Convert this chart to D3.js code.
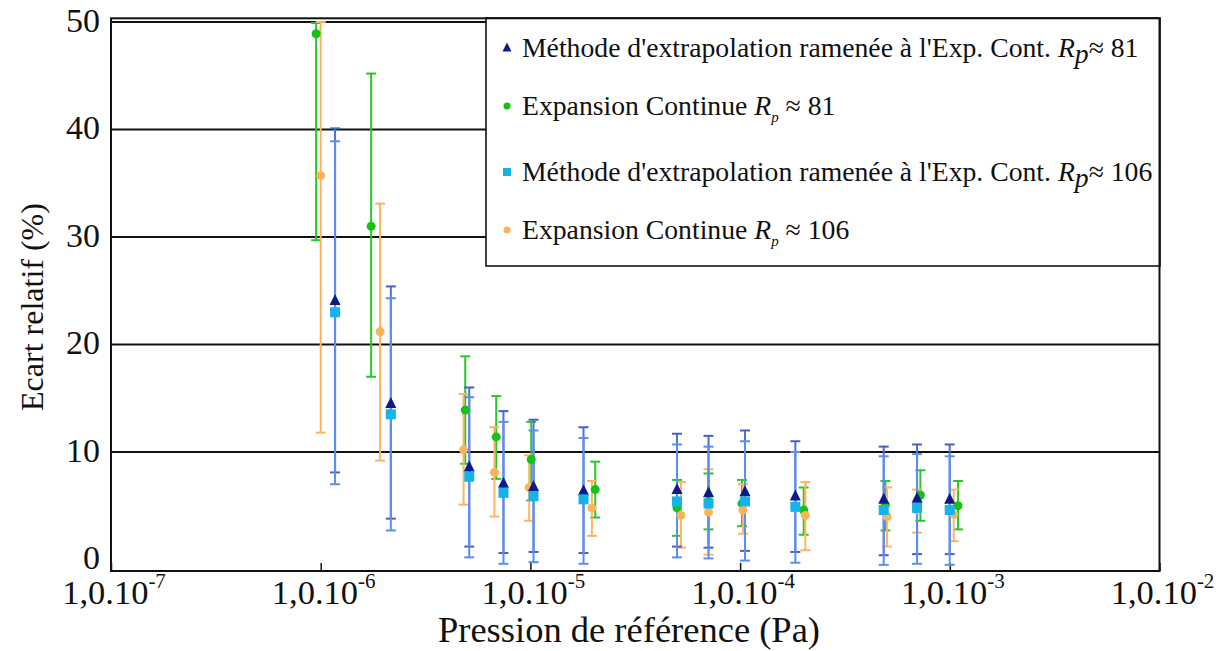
<!DOCTYPE html>
<html>
<head>
<meta charset="utf-8">
<script src="https://cdn.jsdelivr.net/npm/d3@7"></script>
<style>
  html, body { margin: 0; padding: 0; background: #fff; }
  svg text { font-family: "Liberation Serif", Tinos, "Times New Roman", Times, "DejaVu Serif", serif; }
</style>
</head>
<body>
<svg id="chart" width="1228" height="651"></svg>
<script>
// ---------- DATA ----------
const xTickExponents = [-7, -6, -5, -4, -3, -2];
const yTickValues = [0, 10, 20, 30, 40, 50];

// Méthode d'extrapolation ramenée à l'Exp. Cont. Rp ≈ 81 (triangles)
const methode81Pressure = [1.171e-6, 2.160e-6, 5.11e-6, 7.44e-6, 1.035e-5, 1.792e-5, 5.00e-5, 7.07e-5, 1.055e-4, 1.834e-4, 4.84e-4, 6.98e-4, 9.99e-4];
const methode81Value    = [24.1, 14.5, 8.6, 7.1, 6.8, 6.4, 6.5, 6.2, 6.3, 5.9, 5.6, 5.7, 5.6];
const methode81Low      = [8.1, 3.8, 1.2, 0.6, 0.7, 0.6, 1.2, 1.1, 0.8, 0.7, 0.4, 0.5, 0.5];
const methode81High     = [40.1, 25.4, 16.0, 13.8, 13.0, 12.3, 11.7, 11.5, 12.0, 11.0, 10.5, 10.7, 10.7];

// Méthode d'extrapolation ramenée à l'Exp. Cont. Rp ≈ 106 (squares)
const methode106Pressure = [1.171e-6, 2.160e-6, 5.11e-6, 7.44e-6, 1.035e-5, 1.792e-5, 5.00e-5, 7.07e-5, 1.055e-4, 1.834e-4, 4.84e-4, 6.98e-4, 9.99e-4];
const methode106Value    = [23.0, 13.5, 7.7, 6.2, 5.9, 5.6, 5.4, 5.2, 5.4, 4.9, 4.6, 4.8, 4.6];
const methode106Low      = [7.0, 2.7, 0.2, -0.4, -0.25, -0.4, 0.2, 0.1, -0.1, -0.3, -0.5, -0.4, -0.5];
const methode106High     = [38.9, 24.3, 15.1, 12.8, 12.0, 11.3, 10.7, 10.5, 11.0, 10.0, 9.6, 9.8, 9.6];

// Expansion Continue Rp ≈ 81 (green circles)
const expansion81Pressure = [9.51e-7, 1.740e-6, 4.89e-6, 6.87e-6, 1.009e-5, 2.038e-5, 5.00e-5, 7.07e-5, 1.021e-4, 2.01e-4, 4.93e-4, 7.24e-4, 1.095e-3];
const expansion81Value    = [48.9, 31.0, 13.9, 11.4, 9.3, 6.5, 4.8, 5.4, 5.2, 4.6, 5.1, 6.0, 5.0];
const expansion81Low      = [29.7, 17.0, 8.9, 7.5, 5.5, 3.9, 2.2, 2.8, 3.1, 2.3, 2.7, 3.6, 2.8];
const expansion81High     = [49.9, 45.2, 18.9, 15.2, 12.8, 9.1, 7.4, 8.0, 7.4, 6.7, 7.3, 8.3, 7.3];

// Expansion Continue Rp ≈ 106 (orange circles)
const expansion106Pressure = [1.00e-6, 1.920e-6, 4.80e-6, 6.74e-6, 9.87e-6, 1.965e-5, 5.22e-5, 7.07e-5, 1.032e-4, 2.047e-4, 5.02e-4, 6.98e-4, 1.044e-3];
const expansion106Value    = [35.7, 21.2, 10.2, 8.1, 6.7, 4.8, 4.1, 4.4, 4.6, 4.1, 4.0, 4.6, 4.2];
const expansion106Low      = [11.8, 9.2, 5.1, 4.0, 3.6, 2.2, 1.1, 0.45, 2.4, 0.86, 1.2, 2.5, 1.7];
const expansion106High     = [50.0, 33.1, 15.4, 12.3, 9.7, 7.3, 7.2, 8.4, 7.0, 7.2, 6.7, 6.5, 6.5];

const legendLabels = [
  { pre: "Méthode d'extrapolation ramenée à l'Exp. Cont. ", sub: "p", small: false, post: "≈ 81" },
  { pre: "Expansion Continue ", sub: "p", small: true, post: " ≈ 81" },
  { pre: "Méthode d'extrapolation ramenée à l'Exp. Cont. ", sub: "p", small: false, post: "≈ 106" },
  { pre: "Expansion Continue ", sub: "p", small: true, post: " ≈ 106" }
];

// ---------- BUILD ----------
(function () {
const FONT = "'Liberation Serif', Tinos, 'Times New Roman', Times, serif";
function zip(p, v, lo, hi) { return p.map((d, i) => ({ p: d, v: v[i], lo: lo[i], hi: hi[i] })); }

const series = [
  { key: "exp81",  data: zip(expansion81Pressure, expansion81Value, expansion81Low, expansion81High), shape: "circle", fill: "#16c216", bar: "#27c927", cap: "#27c927" },
  { key: "exp106", data: zip(expansion106Pressure, expansion106Value, expansion106Low, expansion106High), shape: "circle", fill: "#fdb457", bar: "#fdb55c", cap: "#fdb55c" },
  { key: "met81",  data: zip(methode81Pressure, methode81Value, methode81Low, methode81High), shape: "triangle", fill: "#0b1a8c", bar: "#4f6fd8", cap: "#4b5fc2" },
  { key: "met106", data: zip(methode106Pressure, methode106Value, methode106Low, methode106High), shape: "square", fill: "#14b4ea", bar: "#5b8ef0", cap: "#5b8ef0" }
];

const svg = d3.select("#chart");
const plotL = 111, plotR = 1159.5, plotT = 18.3, plotB = 571;

const x = d3.scaleLog().domain([1e-7, 1e-2]).range([plotL, plotR]);
const y = d3.scaleLinear().domain([-1.07, 50.34]).range([plotB, plotT]);

// gridlines
svg.append("g").selectAll("line").data(yTickValues.filter(d => d > 0)).join("line")
  .attr("x1", plotL).attr("x2", plotR)
  .attr("y1", d => y(d)).attr("y2", d => y(d))
  .attr("stroke", "#111").attr("stroke-width", 2);

// legend box (covers gridlines)
const legendBox = { x0: 486, y0: 18, x1: 1160, y1: 266 };
svg.append("rect")
  .attr("x", legendBox.x0).attr("y", legendBox.y0)
  .attr("width", legendBox.x1 - legendBox.x0).attr("height", legendBox.y1 - legendBox.y0)
  .attr("fill", "#fff").attr("stroke", "#111").attr("stroke-width", 1.6);

// frame
svg.append("rect")
  .attr("x", plotL).attr("y", plotT).attr("width", plotR - plotL).attr("height", plotB - plotT)
  .attr("fill", "none").attr("stroke", "#111").attr("stroke-width", 2);

// x axis ticks (inward)
const xAxis = d3.axisBottom(x)
  .tickValues(xTickExponents.map(e => Math.pow(10, e)))
  .tickSizeInner(-8).tickSizeOuter(0).tickFormat("");
const gx = svg.append("g").attr("transform", `translate(0,${plotB})`).call(xAxis);
gx.select(".domain").remove();
gx.selectAll(".tick line").attr("stroke", "#111").attr("stroke-width", 1.5);

// x tick labels
const xl = svg.append("g").selectAll("text").data(xTickExponents).join("text")
  .attr("x", d => x(Math.pow(10, d)) + 3)
  .attr("y", 604)
  .attr("text-anchor", "middle")
  .attr("font-family", FONT)
  .attr("font-size", 34.5)
  .attr("fill", "#111");
xl.append("tspan").text("1,0.10");
xl.append("tspan").attr("font-size", 21).attr("dy", -16).text(d => String(d));

// y tick labels
const yAxis = d3.axisLeft(y).tickValues(yTickValues).tickSize(0).tickPadding(11).tickFormat(d3.format("d"));
const gy = svg.append("g").attr("transform", `translate(${plotL},0)`).call(yAxis);
gy.attr("font-family", FONT);
gy.select(".domain").remove();
gy.selectAll(".tick text")
  .attr("font-family", FONT)
  .attr("font-size", 34).attr("fill", "#111").attr("dy", "0.27em");

// axis titles
svg.append("text")
  .attr("x", 629).attr("y", 642).attr("text-anchor", "middle")
  .attr("font-family", FONT)
  .attr("font-size", 36.5).attr("fill", "#111")
  .text("Pression de référence (Pa)");
svg.append("text")
  .attr("transform", "translate(43,307) rotate(-90)")
  .attr("text-anchor", "middle").attr("font-size", 32).attr("fill", "#111")
  .attr("font-family", FONT)
  .text("Ecart relatif (%)");

// error bars
const capHalf = 5;
series.forEach(s => {
  const g = svg.append("g").attr("class", "err-" + s.key);
  g.selectAll("line.v").data(s.data).join("line").attr("class", "v")
    .attr("x1", d => x(d.p)).attr("x2", d => x(d.p))
    .attr("y1", d => y(d.lo)).attr("y2", d => y(d.hi))
    .attr("stroke", s.bar).attr("stroke-width", 2);
  ["lo", "hi"].forEach(k => {
    g.selectAll("line.c" + k).data(s.data).join("line").attr("class", "c" + k)
      .attr("x1", d => x(d.p) - capHalf).attr("x2", d => x(d.p) + capHalf)
      .attr("y1", d => y(d[k])).attr("y2", d => y(d[k]))
      .attr("stroke", s.cap).attr("stroke-width", 2);
  });
});

// markers
function drawMarker(g, shape, cx, cy, size, fill) {
  if (shape === "circle") {
    g.append("circle").attr("cx", cx).attr("cy", cy).attr("r", size / 2).attr("fill", fill);
  } else if (shape === "triangle") {
    const h = size, w = size;
    g.append("path").attr("d", `M${cx},${cy - h / 2 - 1}L${cx + w / 2},${cy + h / 2 - 1}L${cx - w / 2},${cy + h / 2 - 1}Z`).attr("fill", fill);
  } else {
    g.append("rect").attr("x", cx - size / 2).attr("y", cy - size / 2).attr("width", size).attr("height", size).attr("fill", fill);
  }
}
const markerSize = { circle: 9, triangle: 11, square: 10 };
series.forEach(s => {
  const g = svg.append("g").attr("class", "pts-" + s.key);
  s.data.forEach(d => drawMarker(g, s.shape, x(d.p), y(d.v), markerSize[s.shape], s.fill));
});

// legend entries
const legendOrder = ["met81", "exp81", "met106", "exp106"];
const legendY = [47, 105, 171, 229];
const legendMarkerSize = { circle: 7, triangle: 9, square: 8 };
legendOrder.forEach((k, i) => {
  const s = series.find(d => d.key === k);
  const lab = legendLabels[i];
  const g = svg.append("g").attr("class", "legend-item");
  drawMarker(g, s.shape, 507, legendY[i] + 1, legendMarkerSize[s.shape], s.fill);
  const t = g.append("text").attr("x", 522).attr("y", legendY[i] + 10)
    .attr("font-family", FONT)
    .attr("font-size", 27.7).attr("fill", "#111");
  t.append("tspan").text(lab.pre);
  t.append("tspan").attr("font-style", "italic").text("R");
  if (lab.small) {
    t.append("tspan").attr("font-style", "italic").attr("font-size", 15).attr("dy", 7).text(lab.sub);
    t.append("tspan").attr("dy", -7).text(lab.post);
  } else {
    t.append("tspan").attr("font-style", "italic").attr("dy", 6).text(lab.sub);
    t.append("tspan").attr("dy", -6).text(lab.post);
  }
});
})();
</script>
</body>
</html>
